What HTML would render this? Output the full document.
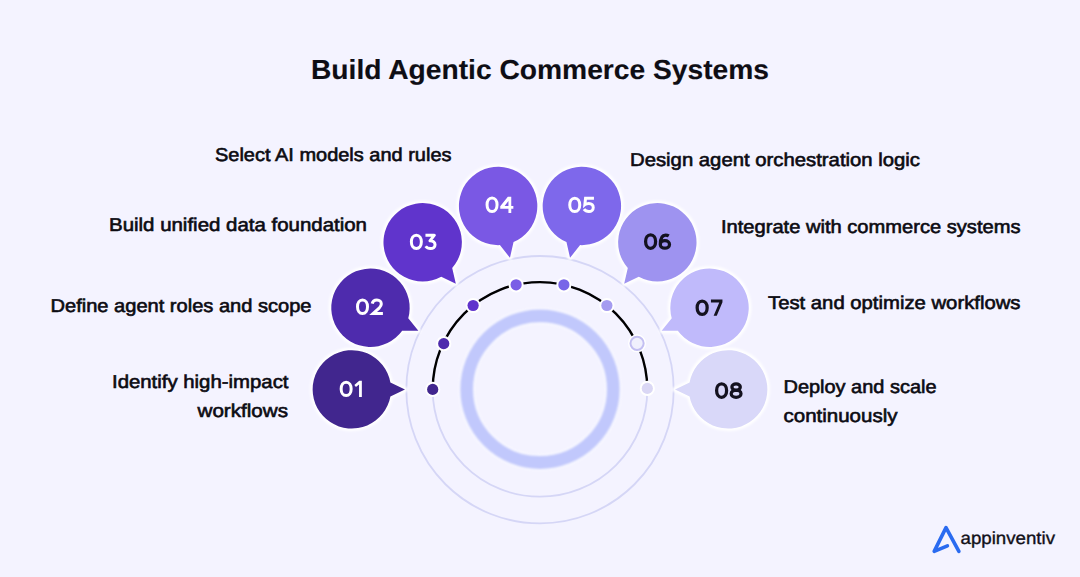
<!DOCTYPE html>
<html><head><meta charset="utf-8"><style>
html,body{margin:0;padding:0;}
body{width:1080px;height:577px;background:#F4F3FF;overflow:hidden;}
svg{display:block;font-family:"Liberation Sans",sans-serif;text-rendering:geometricPrecision;}
</style></head><body>
<svg width="1080" height="577" viewBox="0 0 1080 577">
<defs><filter id="soft" x="-20%" y="-20%" width="140%" height="140%"><feGaussianBlur stdDeviation="1"/></filter><filter id="soft2" x="-20%" y="-20%" width="140%" height="140%"><feGaussianBlur stdDeviation="0.8"/></filter></defs>
<rect width="1080" height="577" fill="#F4F3FF"/>
<circle cx="540" cy="389.7" r="133.7" fill="none" stroke="#D5D6F6" stroke-width="1.8"/>
<circle cx="540" cy="389.4" r="107.3" fill="none" stroke="#D5D6F6" stroke-width="1.8"/>
<circle cx="540" cy="389.2" r="73.3" fill="none" stroke="#FAFAFF" stroke-width="16" filter="url(#soft)"/><circle cx="540" cy="389.2" r="73.3" fill="none" stroke="#C1C8FC" stroke-width="12.8" filter="url(#soft2)"/>
<path d="M 432.7 389.4 A 107.3 107.3 0 0 1 647.3 389.4" fill="none" stroke="#000" stroke-width="2.4"/>
<g transform="translate(352.00,389.40) rotate(0.000)"><path d="M 53 0 L 38.4 7.0 A 39.2 39.2 0 1 1 38.4 -7.0 Z" fill="#fff" stroke="#fff" stroke-width="5" stroke-linejoin="round" filter="url(#soft)"/><path d="M 53 0 L 38.4 7.0 A 39.2 39.2 0 1 1 38.4 -7.0 Z" fill="#41268E"/></g>
<path transform="translate(339.75,380.80)" d="M 6.4 1.4 C 9.5 1.4 11.4 4.2 11.4 8.1 C 11.4 12.0 9.5 14.8 6.4 14.8 C 3.3 14.8 1.4 12.0 1.4 8.1 C 1.4 4.2 3.3 1.4 6.4 1.4 Z" fill="none" stroke="#fff" stroke-width="3.0" stroke-linejoin="miter" stroke-miterlimit="4"/><path transform="translate(354.35,380.80)" d="M 7.5 0 L 7.5 16.2 L 4.7 16.2 L 4.7 3.7 L 1.6 6.3 L 0 4.1 L 4.9 0 Z" fill="#fff" fill-rule="evenodd"/>
<g transform="translate(370.62,307.83) rotate(25.714)"><path d="M 53 0 L 38.4 7.0 A 39.2 39.2 0 1 1 38.4 -7.0 Z" fill="#fff" stroke="#fff" stroke-width="5" stroke-linejoin="round" filter="url(#soft)"/><path d="M 53 0 L 38.4 7.0 A 39.2 39.2 0 1 1 38.4 -7.0 Z" fill="#4E2BAD"/></g>
<path transform="translate(356.10,298.70)" d="M 6.4 1.4 C 9.5 1.4 11.4 4.2 11.4 8.1 C 11.4 12.0 9.5 14.8 6.4 14.8 C 3.3 14.8 1.4 12.0 1.4 8.1 C 1.4 4.2 3.3 1.4 6.4 1.4 Z" fill="none" stroke="#fff" stroke-width="3.0" stroke-linejoin="miter" stroke-miterlimit="4"/><path transform="translate(370.70,298.70)" d="M 1.5 4.9 C 2.0 2.6 3.9 1.4 6.2 1.4 C 8.9 1.4 10.6 3.1 10.6 5.3 C 10.6 6.8 9.9 7.9 8.7 9.1 L 2.4 14.8 L 12.2 14.8" fill="none" stroke="#fff" stroke-width="3.0" stroke-linejoin="miter" stroke-miterlimit="4"/>
<g transform="translate(422.78,242.42) rotate(51.429)"><path d="M 53 0 L 38.4 7.0 A 39.2 39.2 0 1 1 38.4 -7.0 Z" fill="#fff" stroke="#fff" stroke-width="5" stroke-linejoin="round" filter="url(#soft)"/><path d="M 53 0 L 38.4 7.0 A 39.2 39.2 0 1 1 38.4 -7.0 Z" fill="#6034CC"/></g>
<path transform="translate(409.95,233.75)" d="M 6.4 1.4 C 9.5 1.4 11.4 4.2 11.4 8.1 C 11.4 12.0 9.5 14.8 6.4 14.8 C 3.3 14.8 1.4 12.0 1.4 8.1 C 1.4 4.2 3.3 1.4 6.4 1.4 Z" fill="none" stroke="#fff" stroke-width="3.0" stroke-linejoin="miter" stroke-miterlimit="4"/><path transform="translate(424.55,233.75)" d="M 0.9 1.4 L 9.8 1.4 L 5.4 7.1 C 8.7 7.0 10.5 8.7 10.5 11.0 C 10.5 13.3 8.6 14.8 6.0 14.8 C 3.9 14.8 2.1 13.9 1.1 12.5" fill="none" stroke="#fff" stroke-width="3.0" stroke-linejoin="round" stroke-miterlimit="4"/>
<g transform="translate(498.17,206.11) rotate(77.143)"><path d="M 53 0 L 38.4 7.0 A 39.2 39.2 0 1 1 38.4 -7.0 Z" fill="#fff" stroke="#fff" stroke-width="5" stroke-linejoin="round" filter="url(#soft)"/><path d="M 53 0 L 38.4 7.0 A 39.2 39.2 0 1 1 38.4 -7.0 Z" fill="#7A58E4"/></g>
<path transform="translate(485.65,196.70)" d="M 6.4 1.4 C 9.5 1.4 11.4 4.2 11.4 8.1 C 11.4 12.0 9.5 14.8 6.4 14.8 C 3.3 14.8 1.4 12.0 1.4 8.1 C 1.4 4.2 3.3 1.4 6.4 1.4 Z" fill="none" stroke="#fff" stroke-width="3.0" stroke-linejoin="miter" stroke-miterlimit="4"/><path transform="translate(500.25,196.70)" d="M 7.6 0 L 11.0 0 L 11.0 9.2 L 13.1 9.2 L 13.1 12.0 L 11.0 12.0 L 11.0 16.2 L 8.2 16.2 L 8.2 12.0 L 0 12.0 L 0 9.6 Z M 8.2 4.3 L 4.3 9.2 L 8.2 9.2 Z" fill="#fff" fill-rule="evenodd"/>
<g transform="translate(581.83,206.11) rotate(102.857)"><path d="M 53 0 L 38.4 7.0 A 39.2 39.2 0 1 1 38.4 -7.0 Z" fill="#fff" stroke="#fff" stroke-width="5" stroke-linejoin="round" filter="url(#soft)"/><path d="M 53 0 L 38.4 7.0 A 39.2 39.2 0 1 1 38.4 -7.0 Z" fill="#7E68EB"/></g>
<path transform="translate(568.35,196.80)" d="M 6.4 1.4 C 9.5 1.4 11.4 4.2 11.4 8.1 C 11.4 12.0 9.5 14.8 6.4 14.8 C 3.3 14.8 1.4 12.0 1.4 8.1 C 1.4 4.2 3.3 1.4 6.4 1.4 Z" fill="none" stroke="#fff" stroke-width="3.0" stroke-linejoin="miter" stroke-miterlimit="4"/><path transform="translate(582.95,196.80)" d="M 11.0 1.4 L 2.6 1.4 L 1.9 7.9 C 3.0 7.0 4.4 6.6 5.9 6.6 C 8.7 6.6 10.3 8.5 10.3 10.7 C 10.3 13.1 8.5 14.8 5.9 14.8 C 3.8 14.8 2.1 13.9 1.0 12.4" fill="none" stroke="#fff" stroke-width="3.0" stroke-linejoin="miter" stroke-miterlimit="4"/>
<g transform="translate(657.22,242.42) rotate(128.571)"><path d="M 53 0 L 38.4 7.0 A 39.2 39.2 0 1 1 38.4 -7.0 Z" fill="#fff" stroke="#fff" stroke-width="5" stroke-linejoin="round" filter="url(#soft)"/><path d="M 53 0 L 38.4 7.0 A 39.2 39.2 0 1 1 38.4 -7.0 Z" fill="#9E93F0"/></g>
<path transform="translate(644.20,233.50)" d="M 6.4 1.4 C 9.5 1.4 11.4 4.2 11.4 8.1 C 11.4 12.0 9.5 14.8 6.4 14.8 C 3.3 14.8 1.4 12.0 1.4 8.1 C 1.4 4.2 3.3 1.4 6.4 1.4 Z" fill="none" stroke="#14121F" stroke-width="3.25" stroke-linejoin="miter" stroke-miterlimit="4"/><path transform="translate(658.80,233.50)" d="M 10.0 2.4 C 9.0 1.8 7.9 1.5 6.8 1.5 C 3.4 1.5 1.5 5.0 1.5 11.0 M 1.5 11.0 C 1.5 8.9 3.6 7.2 6.1 7.2 C 8.6 7.2 10.7 8.9 10.7 11.0 C 10.7 13.1 8.6 14.7 6.1 14.7 C 3.6 14.7 1.5 13.1 1.5 11.0 Z" fill="none" stroke="#14121F" stroke-width="3.25" stroke-linejoin="miter" stroke-miterlimit="4"/>
<g transform="translate(709.38,307.83) rotate(154.286)"><path d="M 53 0 L 38.4 7.0 A 39.2 39.2 0 1 1 38.4 -7.0 Z" fill="#fff" stroke="#fff" stroke-width="5" stroke-linejoin="round" filter="url(#soft)"/><path d="M 53 0 L 38.4 7.0 A 39.2 39.2 0 1 1 38.4 -7.0 Z" fill="#C0BAFB"/></g>
<path transform="translate(695.75,299.60)" d="M 6.4 1.4 C 9.5 1.4 11.4 4.2 11.4 8.1 C 11.4 12.0 9.5 14.8 6.4 14.8 C 3.3 14.8 1.4 12.0 1.4 8.1 C 1.4 4.2 3.3 1.4 6.4 1.4 Z" fill="none" stroke="#14121F" stroke-width="3.25" stroke-linejoin="miter" stroke-miterlimit="4"/><path transform="translate(710.35,299.60)" d="M 0.6 0 L 12.1 0 L 12.1 2.6 L 6.4 16.2 L 3.3 16.2 L 8.9 2.8 L 0.6 2.8 Z" fill="#14121F" fill-rule="evenodd"/>
<g transform="translate(728.00,389.40) rotate(180.000)"><path d="M 53 0 L 38.4 7.0 A 39.2 39.2 0 1 1 38.4 -7.0 Z" fill="#fff" stroke="#fff" stroke-width="5" stroke-linejoin="round" filter="url(#soft)"/><path d="M 53 0 L 38.4 7.0 A 39.2 39.2 0 1 1 38.4 -7.0 Z" fill="#D9D8F9"/></g>
<path transform="translate(715.20,382.50)" d="M 6.4 1.4 C 9.5 1.4 11.4 4.2 11.4 8.1 C 11.4 12.0 9.5 14.8 6.4 14.8 C 3.3 14.8 1.4 12.0 1.4 8.1 C 1.4 4.2 3.3 1.4 6.4 1.4 Z" fill="none" stroke="#14121F" stroke-width="3.25" stroke-linejoin="miter" stroke-miterlimit="4"/><path transform="translate(729.80,382.50)" d="M 6.3 1.4 C 8.7 1.4 10.5 2.8 10.5 4.6 C 10.5 6.4 8.7 7.8 6.3 7.8 C 3.9 7.8 2.1 6.4 2.1 4.6 C 2.1 2.8 3.9 1.4 6.3 1.4 Z M 6.3 7.6 C 9.1 7.6 11.2 9.2 11.2 11.2 C 11.2 13.2 9.1 14.8 6.3 14.8 C 3.5 14.8 1.4 13.2 1.4 11.2 C 1.4 9.2 3.5 7.6 6.3 7.6 Z" fill="none" stroke="#14121F" stroke-width="3.25" stroke-linejoin="miter" stroke-miterlimit="4"/>
<circle cx="432.70" cy="389.40" r="5.6" fill="#41268E" stroke="#fff" stroke-width="4" paint-order="stroke"/>
<circle cx="443.73" cy="343.64" r="5.6" fill="#4E2BAD" stroke="#fff" stroke-width="4" paint-order="stroke"/>
<circle cx="473.10" cy="305.51" r="5.6" fill="#6034CC" stroke="#fff" stroke-width="4" paint-order="stroke"/>
<circle cx="516.12" cy="284.79" r="5.6" fill="#7A5EE6" stroke="#fff" stroke-width="4" paint-order="stroke"/>
<circle cx="563.88" cy="284.79" r="5.6" fill="#7866E8" stroke="#fff" stroke-width="4" paint-order="stroke"/>
<circle cx="606.90" cy="305.51" r="5.6" fill="#A59CF0" stroke="#fff" stroke-width="4" paint-order="stroke"/>
<circle cx="637.07" cy="343.34" r="9" fill="#fff"/>
<circle cx="637.07" cy="343.34" r="6.6" fill="#F0F0FD" stroke="#C3BFF2" stroke-width="2"/>
<circle cx="647.30" cy="388.40" r="5.6" fill="#DAD7F5" stroke="#fff" stroke-width="4" paint-order="stroke"/>
<text x="215" y="160.9" text-anchor="start" font-size="18.6" font-weight="400" fill="#0C0B12" stroke="#0C0B12" stroke-width="0.6" textLength="236.5" lengthAdjust="spacingAndGlyphs">Select AI models and rules</text>
<text x="109" y="230.9" text-anchor="start" font-size="18.6" font-weight="400" fill="#0C0B12" stroke="#0C0B12" stroke-width="0.6" textLength="258" lengthAdjust="spacingAndGlyphs">Build unified data foundation</text>
<text x="50.5" y="312" text-anchor="start" font-size="18.6" font-weight="400" fill="#0C0B12" stroke="#0C0B12" stroke-width="0.6" textLength="261" lengthAdjust="spacingAndGlyphs">Define agent roles and scope</text>
<text x="288.5" y="387.6" text-anchor="end" font-size="18.6" font-weight="400" fill="#0C0B12" stroke="#0C0B12" stroke-width="0.6" textLength="176.5" lengthAdjust="spacingAndGlyphs">Identify high-impact</text>
<text x="288" y="416.5" text-anchor="end" font-size="18.6" font-weight="400" fill="#0C0B12" stroke="#0C0B12" stroke-width="0.6" textLength="90.5" lengthAdjust="spacingAndGlyphs">workflows</text>
<text x="630" y="165.9" text-anchor="start" font-size="18.6" font-weight="400" fill="#0C0B12" stroke="#0C0B12" stroke-width="0.6" textLength="290" lengthAdjust="spacingAndGlyphs">Design agent orchestration logic</text>
<text x="721" y="233.4" text-anchor="start" font-size="18.6" font-weight="400" fill="#0C0B12" stroke="#0C0B12" stroke-width="0.6" textLength="299.5" lengthAdjust="spacingAndGlyphs">Integrate with commerce systems</text>
<text x="768" y="308.8" text-anchor="start" font-size="18.6" font-weight="400" fill="#0C0B12" stroke="#0C0B12" stroke-width="0.6" textLength="252.5" lengthAdjust="spacingAndGlyphs">Test and optimize workflows</text>
<text x="783.5" y="392.8" text-anchor="start" font-size="18.6" font-weight="400" fill="#0C0B12" stroke="#0C0B12" stroke-width="0.6" textLength="153" lengthAdjust="spacingAndGlyphs">Deploy and scale</text>
<text x="783.5" y="421.7" text-anchor="start" font-size="18.6" font-weight="400" fill="#0C0B12" stroke="#0C0B12" stroke-width="0.6" textLength="114" lengthAdjust="spacingAndGlyphs">continuously</text>
<text x="311" y="78.7" font-size="27.5" font-weight="700" fill="#0E0D14" stroke="#0E0D14" stroke-width="0.15" textLength="458" lengthAdjust="spacingAndGlyphs">Build Agentic Commerce Systems</text>
<path d="M 947.4 545.8 L 934.2 551.4 L 946 527.6 L 958.9 551.4" fill="none" stroke="#2A6BF0" stroke-width="3.6" stroke-linecap="round" stroke-linejoin="round"/>
<text x="960.5" y="543.6" font-size="17.5" font-weight="400" fill="#111018" stroke="#111018" stroke-width="0.35" textLength="94.5" lengthAdjust="spacingAndGlyphs">appinventiv</text>
</svg>
</body></html>
